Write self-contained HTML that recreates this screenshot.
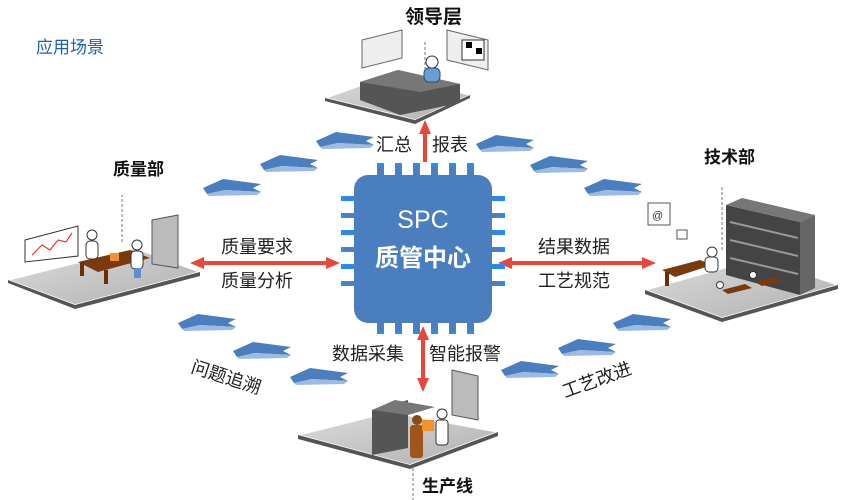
<!DOCTYPE html>
<html><head><meta charset="utf-8"><style>
html,body{margin:0;padding:0;background:#fff;}
svg{display:block}
text{font-family:"Liberation Sans","Noto Sans CJK SC",sans-serif;}
</style></head><body>
<svg width="843" height="500" viewBox="0 0 843 500" xmlns="http://www.w3.org/2000/svg">
<defs>
<linearGradient id="fl" x1="0" y1="0" x2="1" y2="1"><stop offset="0" stop-color="#dcdcdc"/><stop offset="1" stop-color="#b0b0b0"/></linearGradient>
<g id="ar"><polygon points="0,9 20,0 58,5 50,9 58,13 22,11 4,15" fill="#4a7ebf"/><polygon points="4,15 22,11 58,13 54,16 6,17" fill="#9dbbe0"/></g>
</defs>
<text x="36" y="53" font-size="17" fill="#1f5fb0">应用场景</text>

<use href="#ar" x="203" y="179"/><use href="#ar" x="260" y="155"/><use href="#ar" x="316" y="132"/>
<use href="#ar" x="476" y="135"/><use href="#ar" x="530" y="156"/><use href="#ar" x="584" y="179"/>
<use href="#ar" x="178" y="314"/><use href="#ar" x="233" y="342"/><use href="#ar" x="290" y="368"/>
<use href="#ar" x="501" y="361"/><use href="#ar" x="558" y="339"/><use href="#ar" x="613" y="314"/>

<polygon points="325,98 390,75 470,95 415,120" fill="url(#fl)" stroke="#fff" stroke-width="1.5"/>
<polygon points="325,98 415,120 470,95 470,98 415,124 325,101" fill="#555"/>
<polygon points="360,82 398,70 460,84 460,103 400,115 360,100" fill="#555"/>
<polygon points="360,82 398,70 460,84 420,92" fill="#777"/>
<circle cx="432" cy="62" r="6" fill="#fff" stroke="#333"/><rect x="424" y="68" width="16" height="14" rx="5" fill="#6a9fd6" stroke="#2d4f7a"/>
<polygon points="362,40 402,30 402,58 362,68" fill="#eee" stroke="#666"/>
<polygon points="447,30 488,40 488,70 447,60" fill="#eee" stroke="#666"/>
<rect x="462" y="40" width="22" height="20" fill="#fff" stroke="#333"/><rect x="466" y="42" width="6" height="6" fill="#000"/><rect x="476" y="48" width="6" height="6" fill="#000"/>
<line x1="425" y1="70" x2="425" y2="40" stroke="#777" stroke-dasharray="3,2"/>
<text x="405" y="23" font-size="19" font-weight="bold" fill="#111">领导层</text>

<polygon points="8,280 135,248 200,272 75,305" fill="url(#fl)" stroke="#fff" stroke-width="1.5"/>
<polygon points="8,280 75,305 200,272 200,276 75,309 8,283" fill="#555"/>
<polygon points="25,240 78,226 78,256 25,262" fill="#fff" stroke="#333"/>
<polyline points="32,255 42,245 50,250 58,240 66,242 72,233" fill="none" stroke="#e33" stroke-width="1.2"/>
<polygon points="152,220 178,215 178,268 152,264" fill="#bbb" stroke="#555"/>
<polygon points="78,262 130,250 150,258 98,272" fill="#7a3a0e"/><rect x="80" y="262" width="4" height="14" fill="#6a2e08"/><rect x="104" y="270" width="4" height="14" fill="#6a2e08"/>
<rect x="110" y="253" width="9" height="8" fill="#f0932b"/>
<circle cx="92" cy="235" r="5" fill="#fff" stroke="#333"/><rect x="86" y="241" width="12" height="18" rx="4" fill="#fff" stroke="#333"/>
<circle cx="137" cy="245" r="5" fill="#fff" stroke="#333"/><rect x="131" y="251" width="12" height="18" rx="4" fill="#fff" stroke="#333"/><rect x="134" y="268" width="7" height="10" fill="#5a8fd0"/>
<line x1="122" y1="242" x2="122" y2="195" stroke="#777" stroke-dasharray="3,2"/>
<text x="113" y="175" font-size="17" font-weight="bold" fill="#111">质量部</text>

<polygon points="645,290 760,258 838,285 722,318" fill="url(#fl)" stroke="#fff" stroke-width="1.5"/>
<polygon points="645,290 722,318 838,285 838,289 722,322 645,294" fill="#555"/>
<polygon points="726,205 800,222 800,295 726,275" fill="#444"/>
<polygon points="726,205 742,198 815,215 800,222" fill="#777"/><polygon points="800,222 815,215 815,288 800,295" fill="#666"/>
<line x1="730" y1="222" x2="798" y2="238" stroke="#999" stroke-width="2"/><line x1="730" y1="240" x2="798" y2="256" stroke="#999" stroke-width="2"/><line x1="730" y1="258" x2="798" y2="274" stroke="#999" stroke-width="2"/>
<rect x="648" y="203" width="22" height="22" fill="#fff" stroke="#555"/><text x="652" y="219" font-size="11" fill="#333">@</text>
<rect x="677" y="230" width="10" height="9" fill="#fff" stroke="#555"/>
<polygon points="662,270 700,260 712,265 675,277" fill="#7a3a0e"/><rect x="665" y="272" width="4" height="14" fill="#6a2e08"/>
<circle cx="712" cy="252" r="5" fill="#fff" stroke="#333"/><rect x="705" y="257" width="13" height="15" rx="4" fill="#fff" stroke="#333"/>
<polygon points="722,290 745,284 752,288 728,294" fill="#7a3a0e"/><polygon points="755,282 775,277 782,281 762,286" fill="#7a3a0e"/>
<circle cx="720" cy="285" r="3.5" fill="#fff" stroke="#333"/><circle cx="753" cy="275" r="3.5" fill="#fff" stroke="#333"/>
<line x1="722" y1="250" x2="722" y2="185" stroke="#777" stroke-dasharray="3,2"/>
<text x="704" y="163" font-size="17" font-weight="bold" fill="#111">技术部</text>

<polygon points="298,435 390,412 498,432 410,465" fill="url(#fl)" stroke="#fff" stroke-width="1.5"/>
<polygon points="298,435 410,465 498,432 498,436 410,469 298,439" fill="#555"/>
<polygon points="452,370 478,376 478,420 452,415" fill="#bbb" stroke="#555"/>
<polygon points="372,410 408,400 408,448 372,455" fill="#555"/><polygon points="372,410 395,400 435,407 408,415" fill="#777"/>
<circle cx="417" cy="420" r="5" fill="#8a4a12"/><rect x="410" y="425" width="13" height="33" rx="3" fill="#a0561a"/>
<rect x="422" y="420" width="12" height="11" fill="#f0932b"/>
<circle cx="442" cy="414" r="5" fill="#fff" stroke="#333"/><rect x="436" y="420" width="12" height="25" rx="3" fill="#fff" stroke="#333"/>
<line x1="413" y1="468" x2="413" y2="500" stroke="#777" stroke-dasharray="3,2"/>
<text x="422" y="492" font-size="17" font-weight="bold" fill="#111">生产线</text>

<g fill="#e8473a" stroke="none">
<rect x="423" y="132" width="4" height="30"/><polygon points="425,120 419,134 431,134"/>
<rect x="421" y="338" width="4" height="42"/><polygon points="423,326 417,340 429,340"/><polygon points="423,392 417,378 429,378"/>
<rect x="202" y="261" width="126" height="4"/><polygon points="190,263 204,257 204,269"/><polygon points="340,263 326,257 326,269"/>
<rect x="510" y="261" width="134" height="4"/><polygon points="498,263 512,257 512,269"/><polygon points="656,263 642,257 642,269"/>
</g>

<g fill="#1e90ff">
<rect x="377" y="163" width="7" height="14"/><rect x="395" y="163" width="7" height="14"/><rect x="413" y="163" width="7" height="14"/><rect x="431" y="163" width="7" height="14"/><rect x="449" y="163" width="7" height="14"/><rect x="467" y="163" width="7" height="14"/>
<rect x="377" y="320" width="7" height="14"/><rect x="395" y="320" width="7" height="14"/><rect x="413" y="320" width="7" height="14"/><rect x="431" y="320" width="7" height="14"/><rect x="449" y="320" width="7" height="14"/><rect x="467" y="320" width="7" height="14"/>
<rect x="341" y="196" width="16" height="5"/><rect x="341" y="213" width="16" height="5"/><rect x="341" y="230" width="16" height="5"/><rect x="341" y="247" width="16" height="5"/><rect x="341" y="264" width="16" height="5"/><rect x="341" y="281" width="16" height="5"/>
<rect x="489" y="196" width="16" height="5"/><rect x="489" y="213" width="16" height="5"/><rect x="489" y="230" width="16" height="5"/><rect x="489" y="247" width="16" height="5"/><rect x="489" y="264" width="16" height="5"/><rect x="489" y="281" width="16" height="5"/>
</g>
<g fill="#4a7ebf">
<rect x="378" y="166" width="5" height="12"/><rect x="396" y="166" width="5" height="12"/><rect x="414" y="166" width="5" height="12"/><rect x="432" y="166" width="5" height="12"/><rect x="450" y="166" width="5" height="12"/><rect x="468" y="166" width="5" height="12"/>
<rect x="378" y="319" width="5" height="12"/><rect x="396" y="319" width="5" height="12"/><rect x="414" y="319" width="5" height="12"/><rect x="432" y="319" width="5" height="12"/><rect x="450" y="319" width="5" height="12"/><rect x="468" y="319" width="5" height="12"/>
<rect x="344" y="197" width="13" height="3"/><rect x="344" y="214" width="13" height="3"/><rect x="344" y="231" width="13" height="3"/><rect x="344" y="248" width="13" height="3"/><rect x="344" y="265" width="13" height="3"/><rect x="344" y="282" width="13" height="3"/>
<rect x="489" y="197" width="13" height="3"/><rect x="489" y="214" width="13" height="3"/><rect x="489" y="231" width="13" height="3"/><rect x="489" y="248" width="13" height="3"/><rect x="489" y="265" width="13" height="3"/><rect x="489" y="282" width="13" height="3"/>
</g>
<rect x="354" y="175" width="138" height="148" rx="14" fill="#4a7ebf"/>
<text x="423" y="228" font-size="25" fill="#fff" text-anchor="middle">SPC</text>
<text x="423" y="266" font-size="24" font-weight="bold" fill="#fff" text-anchor="middle">质管中心</text>

<g font-size="18" fill="#222">
<text x="376" y="151">汇总</text><text x="432" y="151">报表</text>
<text x="221" y="253">质量要求</text><text x="221" y="287">质量分析</text>
<text x="538" y="253">结果数据</text><text x="538" y="287">工艺规范</text>
<text x="332" y="360">数据采集</text><text x="429" y="360">智能报警</text>
<text x="190" y="372" transform="rotate(18 190 372)">问题追溯</text>
<text x="565" y="398" transform="rotate(-20 565 398)">工艺改进</text>
</g>
</svg>
</body></html>
